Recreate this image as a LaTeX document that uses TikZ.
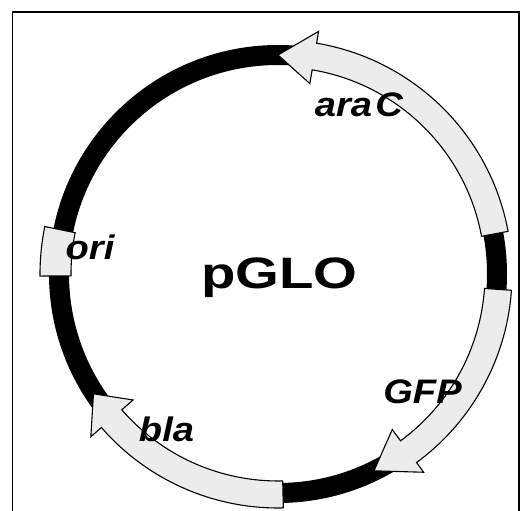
\documentclass[tikz,border=0pt]{standalone}
\usepackage{fontspec}
\usepackage{graphicx}
\setmainfont{Liberation Sans}
\definecolor{genefill}{RGB}{236,236,236}
\begin{document}
\begin{tikzpicture}[x=1pt,y=1pt,
  gene/.style={draw=black, fill=genefill, line width=1.1pt, line join=miter},
  backbone/.style={draw=black, line width=20pt},
  genelabel/.style={inner sep=0pt, anchor=base, font=\fontsize{34}{34}\selectfont\bfseries\itshape},
  titlelabel/.style={inner sep=0pt, anchor=base, font=\fontsize{44}{44}\selectfont\bfseries},
  frameline/.style={draw=black, line width=1.2pt}]
\useasboundingbox (0,0) rectangle (530,511);
\fill[white] (0,0) rectangle (530,511);
\draw[frameline] (12.7,0) -- (12.7,499) -- (519,499) -- (519,0);
\coordinate (c) at (278,237);
\begin{scope}[shift={(c)}]
  \draw[backbone] (0,0) circle[radius=219];
  % araC
  \draw[gene] (10.5:234) arc[start angle=10.5,end angle=80.5,radius=234] -- (80.5:246) -- (90:219) -- (80.5:193) -- (80.5:207) arc[start angle=80.5,end angle=10.5,radius=207] -- cycle;
  % GFP
  \draw[gene] (-4:234) arc[start angle=-4,end angle=-53.7,radius=234] -- (-53.7:246) -- (-64:219) -- (-53.7:193) -- (-53.7:207) arc[start angle=-53.7,end angle=-4,radius=207] -- cycle;
  % bla
  \draw[gene] (-88.7:234) arc[start angle=-88.7,end angle=-139,radius=234] -- (-139:248) -- (-147:220) -- (-139:192) -- (-139:207) arc[start angle=-139,end angle=-88.7,radius=207] -- cycle;
  % ori
  \draw[gene] (168.5:207) arc[start angle=168.5,end angle=180.5,radius=207] -- (180.5:238) arc[start angle=180.5,end angle=168.5,radius=238] -- cycle;
\end{scope}
\node[titlelabel] (title) at (279.5,222) {\scalebox{1.28}[1]{pGLO}};
\node[genelabel] (arac) at (359,394) {\scalebox{1.12}[1]{ara\kern3pt C}};
\node[genelabel] (ori) at (90,251) {\scalebox{1.12}[1]{ori}};
\node[genelabel] (bla) at (166.5,69) {\scalebox{1.12}[1]{bla}};
\node[genelabel] (gfp) at (422.5,107) {\scalebox{1.12}[1]{GFP}};
\end{tikzpicture}
\end{document}
